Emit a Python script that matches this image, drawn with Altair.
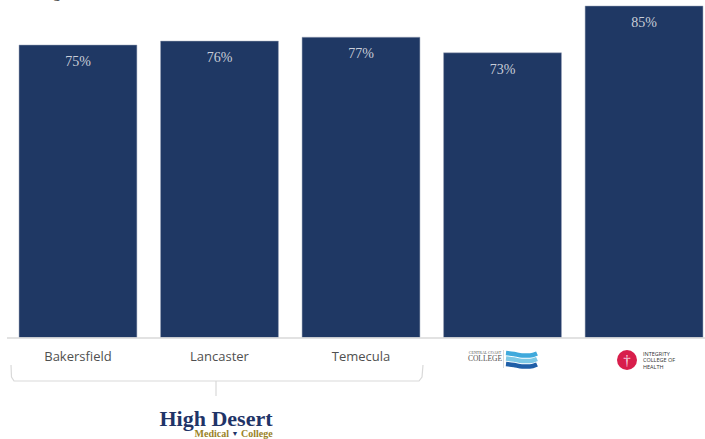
import altair as alt
import pandas as pd

# Completion rate by campus
campuses = ["Bakersfield", "Lancaster", "Temecula", "Central Coast College", "Integrity College of Health"]
rates = [75, 76, 77, 73, 85]
campus_labels = ["Bakersfield", "Lancaster", "Temecula"]

NAVY = "#1f3864"
GRAY = "#505050"
LINE = "#d9d9d9"

W, H = 705, 439

df = pd.DataFrame({"campus": campuses, "rate": rates})
df["label"] = [f"{r}%" for r in rates]

x_scale = alt.Scale(domain=campuses, range=[7.7, 714.3], paddingInner=0.167, paddingOuter=0.08)
y_scale = alt.Scale(domain=[0, 85], range=[337.5, 6])
x_enc = alt.X("campus:N", scale=x_scale, sort=campuses, axis=None)
y_enc = alt.Y("rate:Q", scale=y_scale, axis=None)

bars = alt.Chart(df).mark_bar(color=NAVY, stroke="#9aa5b8", strokeWidth=0.5).encode(
    x=x_enc, y=y_enc, y2=alt.Y2(datum=0)
)
values = alt.Chart(df).mark_text(
    font="Liberation Serif", fontSize=14, color="#c9ced8", dy=17
).encode(x=x_enc, y=y_enc, text="label:N")

baseline = alt.Chart(pd.DataFrame({"a": [7], "b": [705], "y": [338]})).mark_rule(
    color=LINE, strokeWidth=1.5
).encode(
    x=alt.X("a:Q", scale=None), x2="b:Q", y=alt.Y("y:Q", scale=None)
)

names = alt.Chart(df[df.campus.isin(campus_labels)]).mark_text(
    font="Open Sans", fontSize=13, color=GRAY
).encode(x=x_enc, y=alt.value(356.5), text="campus:N")

# Brace grouping the three High Desert campuses
brace_x = [11, 11.5, 14, 212, 216, 220, 419, 422, 423]
brace_y = [365, 377, 381, 381, 381, 381, 381, 377, 365]
brace = alt.Chart(pd.DataFrame({"x": brace_x, "y": brace_y, "o": range(9)})).mark_line(
    color=LINE, strokeWidth=1.2
).encode(
    x=alt.X("x:Q", scale=None), y=alt.Y("y:Q", scale=None), order="o:Q"
)
stem = alt.Chart(pd.DataFrame({"x": [216], "y": [381], "y2": [396]})).mark_rule(
    color=LINE, strokeWidth=1.2
).encode(x=alt.X("x:Q", scale=None), y=alt.Y("y:Q", scale=None), y2="y2:Q")


def label(text, x, y, size, color, font="Liberation Serif", weight="normal", align="center"):
    return alt.Chart(pd.DataFrame({"x": [x], "y": [y]})).mark_text(
        text=text, font=font, fontSize=size, color=color, fontWeight=weight, align=align
    ).encode(x=alt.X("x:Q", scale=None), y=alt.Y("y:Q", scale=None))


# Heading cut off by the top edge; only its descender shows
heading = alt.Chart(pd.DataFrame({"x": [57], "y": [-2]})).mark_text(
    text="g", font="Open Sans", fontSize=13, color=GRAY, baseline="alphabetic"
).encode(x=alt.X("x:Q", scale=None), y=alt.Y("y:Q", scale=None))

# Wordmarks under the last two bars and the group brace
high_desert = label("High Desert", 216, 419, 22, "#1f3468", weight="bold")
medical = label("Medical", 229, 434, 10, "#9a8327", weight="bold", align="right")
college = label("College", 241, 434, 10, "#9a8327", weight="bold", align="left")
caduceus = label("▼", 235, 433.5, 7, "#1f3468")

ccc_top = label("CENTRAL COAST", 485, 352.5, 4, GRAY)
ccc_main = label("COLLEGE", 485, 358.5, 7.5, GRAY)
ccc_rule = alt.Chart(pd.DataFrame({"x": [503.5], "y": [350], "y2": [368]})).mark_rule(
    color=LINE, strokeWidth=1
).encode(x=alt.X("x:Q", scale=None), y=alt.Y("y:Q", scale=None), y2="y2:Q")

# Three stacked waves of the college mark
wave_xs = [506, 514, 522, 530, 537]
wave_layers = []
for offset, colour in zip([353, 358.5, 364], ["#3fa9dc", "#7cc8e6", "#1f5fa8"]):
    wave_ys = [offset, offset + 1, offset + 2.5, offset + 2.5, offset + 0.5]
    wave_layers.append(
        alt.Chart(pd.DataFrame({"x": wave_xs, "y": wave_ys})).mark_line(
            color=colour, strokeWidth=4.5, interpolate="monotone"
        ).encode(x=alt.X("x:Q", scale=None), y=alt.Y("y:Q", scale=None))
    )

seal = alt.Chart(pd.DataFrame({"x": [627], "y": [360]})).mark_point(
    filled=True, color="#d81e4b", size=400, opacity=1, shape="circle"
).encode(x=alt.X("x:Q", scale=None), y=alt.Y("y:Q", scale=None))
cross = label("†", 627, 360, 15, "#f7dfe5")
icoh = [
    label("INTEGRITY", 643, 354, 5.5, "#333333", font="Open Sans", align="left"),
    label("COLLEGE OF", 643, 360, 5.5, "#333333", font="Open Sans", align="left"),
    label("HEALTH", 643, 366.5, 5.5, "#333333", font="Open Sans", align="left"),
]

chart = alt.layer(
    bars, values, baseline, names, brace, stem, heading,
    high_desert, medical, college, caduceus,
    ccc_top, ccc_main, ccc_rule, *wave_layers,
    seal, cross, *icoh,
).properties(width=W, height=H, padding=0, background="white",
             autosize=alt.AutoSizeParams(type="none")
).configure_view(stroke=None)

chart.save("out.html", embed_options={"renderer": "svg", "actions": False})
